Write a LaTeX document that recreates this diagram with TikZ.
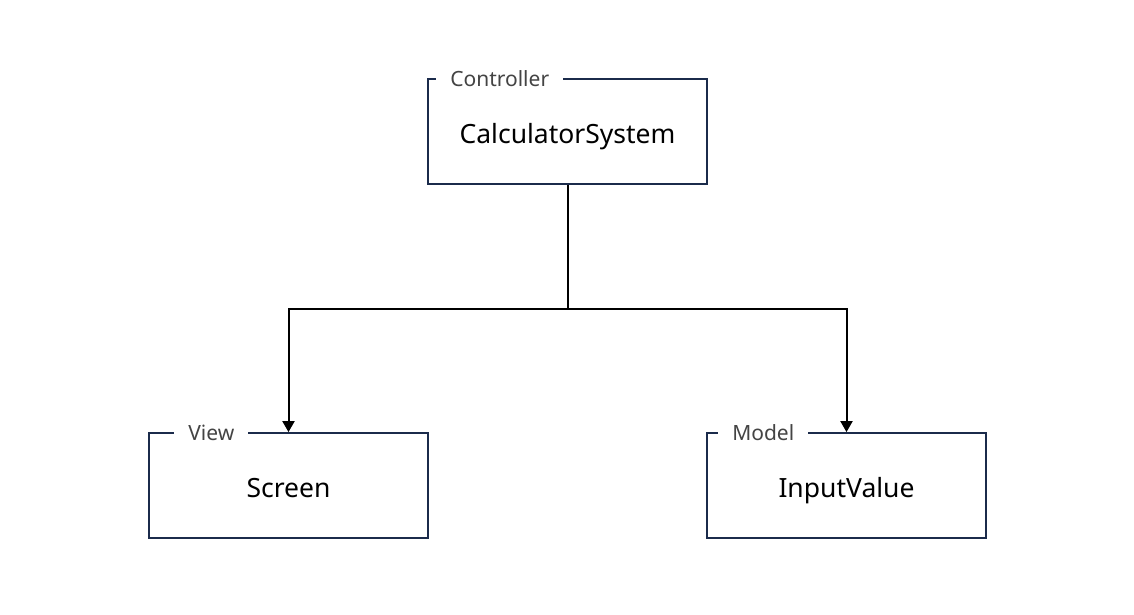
\documentclass[tikz,border=0pt]{standalone}
\usepackage{fontspec}
\setmainfont{Noto Sans}
\usetikzlibrary{arrows.meta}
\definecolor{boxline}{HTML}{1B2B4B}
\definecolor{lbl}{HTML}{444444}
\begin{document}
\begin{tikzpicture}[x=1pt,y=-1pt,
  cls/.style={draw=boxline,line width=1.8pt,minimum width=279pt,minimum height=105pt,inner sep=0pt},
  txt/.style={inner sep=0pt,anchor=base,font=\fontsize{26.5}{30}\selectfont},
  tag/.style={fill=white,text=lbl,inner xsep=14pt,inner ysep=2pt,anchor=base west,font=\fontsize{21}{24}\selectfont},
  conn/.style={line width=2pt,-{Triangle[length=11pt,width=12pt]}}]
\useasboundingbox (0,0) rectangle (1134,615);
\node[cls] (c) at (567.5,131.5) {};
\node[cls] (v) at (288.5,485.5) {};
\node[cls] (m) at (846.5,485.5) {};
\node[txt] (ctx) at ([yshift=-65pt]c.north) {CalculatorSystem};
\node[txt] (vtx) at ([yshift=-65pt]v.north) {Screen};
\node[txt] (mtx) at ([yshift=-65pt]m.north) {InputValue};
\node[tag] (ct) at ([xshift=9pt,yshift=-8pt]c.north west) {Controller};
\node[tag] (vt) at ([xshift=26pt,yshift=-8pt]v.north west) {View};
\node[tag] (mt) at ([xshift=12pt,yshift=-8pt]m.north west) {Model};
\coordinate (j) at (567.5,309);
\draw[line width=2pt] (c.south) -- (j);
\draw[conn] (j) -| (v.north);
\draw[conn] (j) -| (m.north);
\end{tikzpicture}
\end{document}
